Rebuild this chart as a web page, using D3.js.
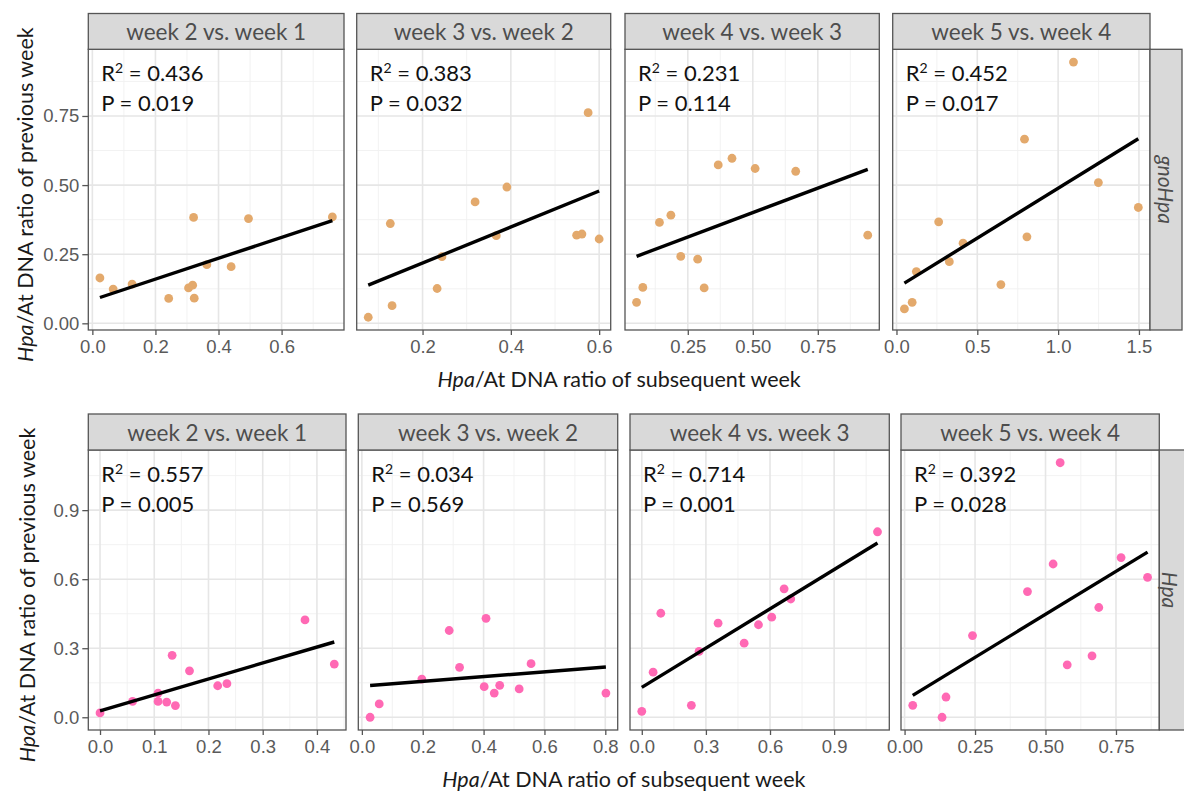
<!DOCTYPE html>
<html>
<head>
<meta charset="utf-8">
<script src="https://cdn.jsdelivr.net/npm/d3@7"></script>
<style>
  body { margin: 0; background: #fff; }
  svg { display: block; }
</style>
</head>
<body>
<svg id="chart" width="1184" height="792"></svg>
<script>
// Panel titles (columns) and group labels (rows)
const weekPairs = ["week 2 vs. week 1", "week 3 vs. week 2", "week 4 vs. week 3", "week 5 vs. week 4"];
const groups = ["gnoHpa", "Hpa"];

// gnoHpa: x = ratio of subsequent week, y = ratio of previous week
const gnoHpaX = [
  [0.024, 0.066, 0.126, 0.242, 0.305, 0.318, 0.321, 0.323, 0.363, 0.440, 0.495, 0.761],
  [0.077, 0.131, 0.127, 0.233, 0.244, 0.319, 0.367, 0.391, 0.549, 0.561, 0.575, 0.600],
  [0.053, 0.077, 0.141, 0.185, 0.223, 0.288, 0.313, 0.367, 0.420, 0.509, 0.665, 0.942],
  [0.049, 0.097, 0.123, 0.261, 0.327, 0.412, 0.646, 0.792, 0.807, 1.095, 1.249, 1.496]
];
const gnoHpaY = [
  [0.164, 0.124, 0.142, 0.090, 0.128, 0.138, 0.383, 0.091, 0.212, 0.205, 0.379, 0.385],
  [0.022, 0.064, 0.361, 0.126, 0.241, 0.439, 0.317, 0.493, 0.319, 0.323, 0.762, 0.305],
  [0.076, 0.130, 0.365, 0.391, 0.242, 0.232, 0.128, 0.573, 0.597, 0.560, 0.550, 0.319],
  [0.052, 0.076, 0.187, 0.367, 0.223, 0.290, 0.140, 0.666, 0.313, 0.945, 0.509, 0.419]
];
const gnoHpaR2 = ["0.436", "0.383", "0.231", "0.452"];
const gnoHpaP  = ["0.019", "0.032", "0.114", "0.017"];
const gnoHpaXTicks = [
  ["0.0", "0.2", "0.4", "0.6"],
  ["0.2", "0.4", "0.6"],
  ["0.25", "0.50", "0.75"],
  ["0.0", "0.5", "1.0", "1.5"]
];
const gnoHpaYTicks = ["0.00", "0.25", "0.50", "0.75"];

// Hpa
const hpaX = [
  [0.000, 0.060, 0.107, 0.107, 0.123, 0.133, 0.139, 0.165, 0.217, 0.234, 0.378, 0.432],
  [0.027, 0.057, 0.197, 0.287, 0.321, 0.402, 0.408, 0.435, 0.453, 0.517, 0.556, 0.802],
  [0.000, 0.053, 0.089, 0.232, 0.268, 0.357, 0.479, 0.546, 0.608, 0.666, 0.697, 1.103],
  [0.029, 0.133, 0.147, 0.241, 0.436, 0.527, 0.552, 0.577, 0.665, 0.689, 0.768, 0.862]
];
const hpaY = [
  [0.019, 0.069, 0.105, 0.069, 0.066, 0.269, 0.051, 0.202, 0.137, 0.146, 0.423, 0.231],
  [0.000, 0.058, 0.166, 0.377, 0.217, 0.133, 0.430, 0.105, 0.139, 0.123, 0.233, 0.105],
  [0.026, 0.196, 0.452, 0.052, 0.286, 0.409, 0.322, 0.402, 0.435, 0.558, 0.514, 0.806],
  [0.052, 0.000, 0.088, 0.355, 0.546, 0.666, 1.106, 0.228, 0.267, 0.477, 0.694, 0.608]
];
const hpaR2 = ["0.557", "0.034", "0.714", "0.392"];
const hpaP  = ["0.005", "0.569", "0.001", "0.028"];
const hpaXTicks = [
  ["0.0", "0.1", "0.2", "0.3", "0.4"],
  ["0.0", "0.2", "0.4", "0.6", "0.8"],
  ["0.0", "0.3", "0.6", "0.9"],
  ["0.00", "0.25", "0.50", "0.75"]
];
const hpaYTicks = ["0.0", "0.3", "0.6", "0.9"];

const xTitle = "/At DNA ratio of subsequent week";
const yTitle = "/At DNA ratio of previous week";

// ---- layout of the two stacked facet grids ----
const rows = [
  {
    label: groups[0], xs: gnoHpaX, ys: gnoHpaY, r2: gnoHpaR2, p: gnoHpaP,
    xTicks: gnoHpaXTicks, yTicks: gnoHpaYTicks, color: "#E3A96C",
    panels: [[88.3, 344], [356.7, 610.7], [625, 879.3], [892.7, 1150]],
    top: 49.3, bottom: 330, stripTop: 13.5, rowStrip: [1150, 1182], rowTextX: 1166,
    xLabelBase: 353, xTitleBase: 387, yTitleX: 25
  },
  {
    label: groups[1], xs: hpaX, ys: hpaY, r2: hpaR2, p: hpaP,
    xTicks: hpaXTicks, yTicks: hpaYTicks, color: "#FF69B4",
    panels: [[88.3, 346], [358.3, 617.7], [630, 889.3], [901, 1159.3]],
    top: 450, bottom: 730, stripTop: 414, rowStrip: [1159.3, 1194], rowTextX: 1170,
    xLabelBase: 755, xTitleBase: 787, yTitleX: 27
  }
];

const svg = d3.select("#chart");
const uiFont = "Lato, 'Open Sans', sans-serif";
const tickFont = "'Liberation Sans', Arial, sans-serif";

// ggplot-style 5% expansion of a data range
function expand(vals) {
  const [lo, hi] = d3.extent(vals);
  const pad = (hi - lo) * 0.05;
  return [lo - pad, hi + pad];
}
// minor breaks halfway between majors, extended one step on each side
function minorBreaks(majors, domain) {
  const step = majors[1] - majors[0];
  const out = [];
  for (let v = majors[0] - step / 2; v <= domain[1] + 1e-9; v += step) {
    if (v >= domain[0]) out.push(v);
  }
  return out;
}
// least-squares line over the x range of the data
function lmLine(xs, ys) {
  const mx = d3.mean(xs), my = d3.mean(ys);
  const sxy = d3.sum(xs, (x, i) => (x - mx) * (ys[i] - my));
  const sxx = d3.sum(xs, x => (x - mx) * (x - mx));
  const b = sxy / sxx, a = my - b * mx;
  const [x0, x1] = d3.extent(xs);
  return [[x0, a + b * x0], [x1, a + b * x1]];
}

rows.forEach(row => {
  const yDomain = expand(row.ys.flat());
  const y = d3.scaleLinear().domain(yDomain).range([row.bottom, row.top]);
  const yMajor = row.yTicks.map(Number);
  const yMinor = minorBreaks(yMajor, yDomain);

  row.panels.forEach((pos, i) => {
    const [left, right] = pos;
    const xs = row.xs[i], ys = row.ys[i];
    const xDomain = expand(xs);
    const x = d3.scaleLinear().domain(xDomain).range([left, right]);
    const xMajor = row.xTicks[i].map(Number);
    const xMinor = minorBreaks(xMajor, xDomain);
    const g = svg.append("g");

    // panel background + grid
    g.append("rect").attr("x", left).attr("y", row.top)
      .attr("width", right - left).attr("height", row.bottom - row.top).attr("fill", "#fff");
    g.selectAll(".ymin").data(yMinor).join("line")
      .attr("x1", left).attr("x2", right).attr("y1", d => y(d)).attr("y2", d => y(d))
      .attr("stroke", "#F1F1F1").attr("stroke-width", 0.9);
    g.selectAll(".xmin").data(xMinor).join("line")
      .attr("y1", row.top).attr("y2", row.bottom).attr("x1", d => x(d)).attr("x2", d => x(d))
      .attr("stroke", "#F1F1F1").attr("stroke-width", 0.9);
    g.selectAll(".ymaj").data(yMajor).join("line")
      .attr("x1", left).attr("x2", right).attr("y1", d => y(d)).attr("y2", d => y(d))
      .attr("stroke", "#E6E6E6").attr("stroke-width", 1.6);
    g.selectAll(".xmaj").data(xMajor).join("line")
      .attr("y1", row.top).attr("y2", row.bottom).attr("x1", d => x(d)).attr("x2", d => x(d))
      .attr("stroke", "#E6E6E6").attr("stroke-width", 1.6);

    // points
    g.selectAll("circle").data(xs.map((v, k) => [v, ys[k]])).join("circle")
      .attr("cx", d => x(d[0])).attr("cy", d => y(d[1])).attr("r", 4.4)
      .attr("fill", row.color);

    // regression line
    g.append("path").datum(lmLine(xs, ys))
      .attr("d", d3.line().x(d => x(d[0])).y(d => y(d[1])))
      .attr("stroke", "#000").attr("stroke-width", 3.4).attr("fill", "none");

    // panel border
    g.append("rect").attr("x", left).attr("y", row.top)
      .attr("width", right - left).attr("height", row.bottom - row.top)
      .attr("fill", "none").attr("stroke", "#555").attr("stroke-width", 1.3);

    // strip
    g.append("rect").attr("x", left).attr("y", row.stripTop)
      .attr("width", right - left).attr("height", row.top - row.stripTop)
      .attr("fill", "#D9D9D9").attr("stroke", "#555").attr("stroke-width", 1.3);
    g.append("text").attr("x", (left + right) / 2).attr("y", (row.stripTop + row.top) / 2)
      .attr("text-anchor", "middle").attr("dominant-baseline", "central")
      .attr("font-family", uiFont).attr("font-size", 22.5).attr("fill", "#4D4D4D")
      .text(weekPairs[i]);

    // statistics
    const r2 = g.append("text").attr("x", left + 13).attr("y", row.top + 32)
      .attr("font-family", uiFont).attr("font-size", 22).attr("fill", "#111");
    r2.append("tspan").text("R");
    r2.append("tspan").attr("font-size", 14).attr("dy", -8).text("2");
    r2.append("tspan").attr("dy", 8).text(" = " + row.r2[i]);
    g.append("text").attr("x", left + 13).attr("y", row.top + 62)
      .attr("font-family", uiFont).attr("font-size", 22).attr("fill", "#111")
      .text("P = " + row.p[i]);

    // x axis
    const xa = g.append("g").attr("transform", `translate(0,${row.bottom})`)
      .call(d3.axisBottom(x).tickValues(xMajor).tickFormat((d, k) => row.xTicks[i][k])
        .tickSize(5).tickPadding(5));
    xa.select(".domain").remove();
    xa.selectAll("line").attr("stroke", "#555").attr("stroke-width", 1.3);
    xa.selectAll("text").attr("font-family", tickFont).attr("font-size", 18.5)
      .attr("fill", "#5A5A5A");

    // y axis only on the first panel
    if (i === 0) {
      const ya = g.append("g").attr("transform", `translate(${left},0)`)
        .call(d3.axisLeft(y).tickValues(yMajor).tickFormat((d, k) => row.yTicks[k])
          .tickSize(6).tickPadding(3));
      ya.select(".domain").remove();
      ya.selectAll("line").attr("stroke", "#555").attr("stroke-width", 1.3);
      ya.selectAll("text").attr("font-family", tickFont).attr("font-size", 18.5)
        .attr("fill", "#5A5A5A");
    }
  });

  // row strip on the right
  const [sx0, sx1] = row.rowStrip;
  svg.append("rect").attr("x", sx0).attr("y", row.top)
    .attr("width", sx1 - sx0).attr("height", row.bottom - row.top)
    .attr("fill", "#D9D9D9").attr("stroke", "#555").attr("stroke-width", 1.3);
  svg.append("text")
    .attr("transform", `translate(${row.rowTextX},${(row.top + row.bottom) / 2}) rotate(90)`)
    .attr("text-anchor", "middle").attr("dominant-baseline", "central")
    .attr("font-family", uiFont).attr("font-size", 21).attr("font-style", "italic")
    .attr("fill", "#4D4D4D").text(row.label);

  // axis titles
  const midX = (row.panels[0][0] + row.panels[3][1]) / 2;
  const xt = svg.append("text").attr("x", midX).attr("y", row.xTitleBase)
    .attr("text-anchor", "middle").attr("font-family", uiFont).attr("font-size", 21.5)
    .attr("fill", "#1A1A1A");
  xt.append("tspan").attr("font-style", "italic").text("Hpa");
  xt.append("tspan").text(xTitle);

  const yt = svg.append("text")
    .attr("transform", `translate(${row.yTitleX},${(row.top + row.bottom) / 2 + 5}) rotate(-90)`)
    .attr("text-anchor", "middle").attr("dominant-baseline", "central")
    .attr("font-family", uiFont).attr("font-size", 21.5).attr("fill", "#1A1A1A");
  yt.append("tspan").attr("font-style", "italic").text("Hpa");
  yt.append("tspan").text(yTitle);
});
</script>
</body>
</html>
